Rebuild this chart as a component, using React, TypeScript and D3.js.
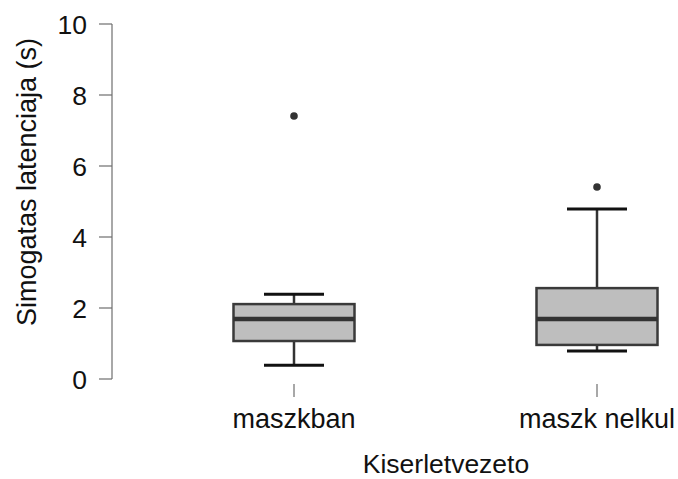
import { useEffect, useRef } from "react";
import * as d3 from "d3";

// data
const groups = ["maszkban", "maszk nelkul"];
const q1 = [1.07, 0.96];
const medians = [1.69, 1.69];
const q3 = [2.11, 2.56];
const whiskerLow = [0.39, 0.79];
const whiskerHigh = [2.39, 4.79];
const outliers = [[7.41], [5.41]];
const yTicks = [0, 2, 4, 6, 8, 10];

export default function App() {
  const ref = useRef<SVGSVGElement>(null);

  useEffect(() => {
    const svg = d3.select(ref.current);
    svg.selectAll("*").remove();

    const width = 678;
    const height = 479;
    const font = "'Liberation Sans', Arial, sans-serif";
    const fs = 26.5;

    const y = d3.scaleLinear().domain([0, 10]).range([379, 24]);
    const x = d3.scalePoint<string>().domain(groups).range([294, 597]);
    const boxW = 121;
    const capW = 60;

    svg.attr("width", width).attr("height", height);

    // y axis
    const axisX = 112;
    svg.append("line")
      .attr("x1", axisX).attr("x2", axisX)
      .attr("y1", y(0)).attr("y2", y(10))
      .attr("stroke", "#6e6e6e").attr("stroke-width", 1.2);
    yTicks.forEach((t) => {
      svg.append("line")
        .attr("x1", axisX - 13).attr("x2", axisX)
        .attr("y1", y(t)).attr("y2", y(t))
        .attr("stroke", "#6e6e6e").attr("stroke-width", 1.2);
      svg.append("text")
        .attr("x", axisX - 25).attr("y", y(t))
        .attr("dy", "0.36em")
        .attr("text-anchor", "end")
        .attr("font-family", font).attr("font-size", fs)
        .attr("fill", "#111")
        .text(t);
    });

    // y label
    svg.append("text")
      .attr("transform", `translate(36,182) rotate(-90)`)
      .attr("text-anchor", "middle")
      .attr("font-family", font).attr("font-size", 27)
      .attr("fill", "#111")
      .text("Simogatas latenciaja (s)");

    // x ticks and labels
    groups.forEach((g) => {
      const cx = x(g)!;
      svg.append("line")
        .attr("x1", cx).attr("x2", cx)
        .attr("y1", 384).attr("y2", 397)
        .attr("stroke", "#6e6e6e").attr("stroke-width", 1.2);
      svg.append("text")
        .attr("x", cx).attr("y", 428)
        .attr("text-anchor", "middle")
        .attr("font-family", font).attr("font-size", 27)
        .attr("fill", "#111")
        .text(g);
    });

    svg.append("text")
      .attr("x", 446).attr("y", 473)
      .attr("text-anchor", "middle")
      .attr("font-family", font).attr("font-size", 26.5)
      .attr("fill", "#111")
      .text("Kiserletvezeto");

    // boxes
    groups.forEach((g, i) => {
      const cx = x(g)!;
      const gEl = svg.append("g");
      // whiskers
      gEl.append("line")
        .attr("x1", cx).attr("x2", cx)
        .attr("y1", y(q3[i])).attr("y2", y(whiskerHigh[i]))
        .attr("stroke", "#333").attr("stroke-width", 2.5);
      gEl.append("line")
        .attr("x1", cx).attr("x2", cx)
        .attr("y1", y(q1[i])).attr("y2", y(whiskerLow[i]))
        .attr("stroke", "#333").attr("stroke-width", 2.5);
      [whiskerLow[i], whiskerHigh[i]].forEach((v) => {
        gEl.append("line")
          .attr("x1", cx - capW / 2).attr("x2", cx + capW / 2)
          .attr("y1", y(v)).attr("y2", y(v))
          .attr("stroke", "#111").attr("stroke-width", 3);
      });
      gEl.append("rect")
        .attr("x", cx - boxW / 2).attr("width", boxW)
        .attr("y", y(q3[i])).attr("height", y(q1[i]) - y(q3[i]))
        .attr("fill", "#bebebe")
        .attr("stroke", "#3a3a3a").attr("stroke-width", 2.5);
      gEl.append("line")
        .attr("x1", cx - boxW / 2).attr("x2", cx + boxW / 2)
        .attr("y1", y(medians[i])).attr("y2", y(medians[i]))
        .attr("stroke", "#333").attr("stroke-width", 4.5);
      outliers[i].forEach((o) => {
        gEl.append("circle")
          .attr("cx", cx).attr("cy", y(o)).attr("r", 3.8)
          .attr("fill", "#333");
      });
    });
  }, []);

  return <svg ref={ref} style={{ display: "block", position: "absolute", left: 0, top: 0 }}></svg>;
}
